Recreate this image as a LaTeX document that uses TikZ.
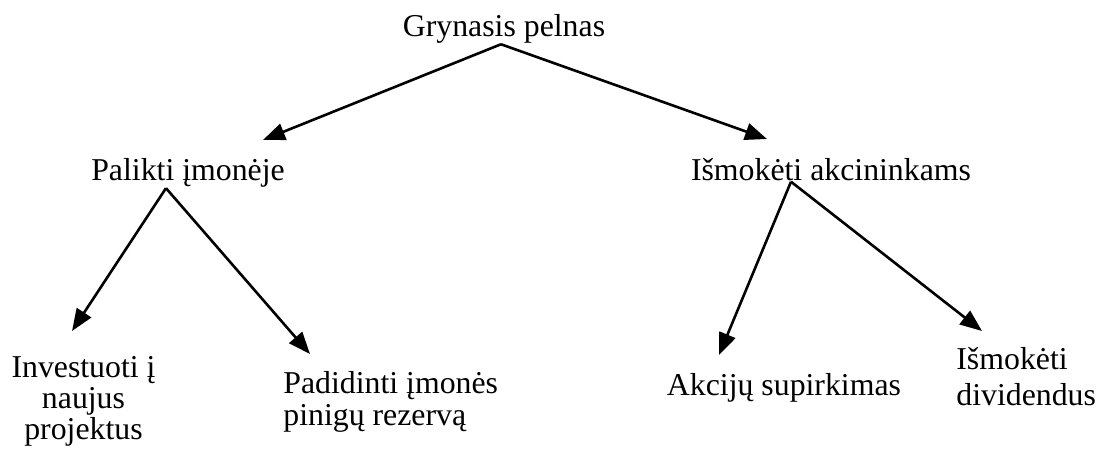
\documentclass[tikz,border=0pt]{standalone}
\usepackage{fontspec}
\setmainfont{Liberation Serif}
\usetikzlibrary{arrows.meta,calc}
\begin{document}
\begin{tikzpicture}[x=0.5pt,y=-0.5pt,
  lbl/.style={inner sep=0pt,font=\fontsize{15.9}{15.5}\selectfont},
  arr/.style={line width=1.3pt,-{Triangle[length=11pt,width=8.5pt]}}]
\useasboundingbox (0,0) rectangle (1099,450);
\node[lbl,anchor=base] (g) at (504,36) {Grynasis pelnas};
\node[lbl,anchor=base] (p) at (188,180) {Palikti įmonėje};
\node[lbl,anchor=base] (s) at (831,180) {Išmokėti akcininkams};
\node[lbl,anchor=base,align=center] (inv) at (83.5,439) {Investuoti į\\naujus\\projektus};
\node[lbl,anchor=base west,align=left,font=\fontsize{15.9}{16}\selectfont] (pad) at (283,425) {Padidinti įmonės\\pinigų rezervą};
\node[lbl,anchor=base] (ak) at (784,395) {Akcijų supirkimas};
\node[lbl,anchor=base west,align=left,font=\fontsize{15.9}{18}\selectfont] (div) at (956,405) {Išmokėti\\dividendus};
\coordinate (gp) at (263,140);
\coordinate (gs) at (767,139);
\coordinate (pinv) at (72,331);
\coordinate (ppad) at (310,354);
\coordinate (sak) at (719,355);
\coordinate (sdiv) at (982,331);
\draw[arr] ($(g.south)+(-3,1)$) -- (gp);
\draw[arr] ($(g.south)+(-3,1)$) -- (gs);
\draw[arr] ($(p.south)+(-22,1)$) -- (pinv);
\draw[arr] ($(p.south)+(-22,1)$) -- (ppad);
\draw[arr] ($(s.south)+(-40,1)$) -- (sak);
\draw[arr] ($(s.south)+(-40,1)$) -- (sdiv);
\end{tikzpicture}
\end{document}
